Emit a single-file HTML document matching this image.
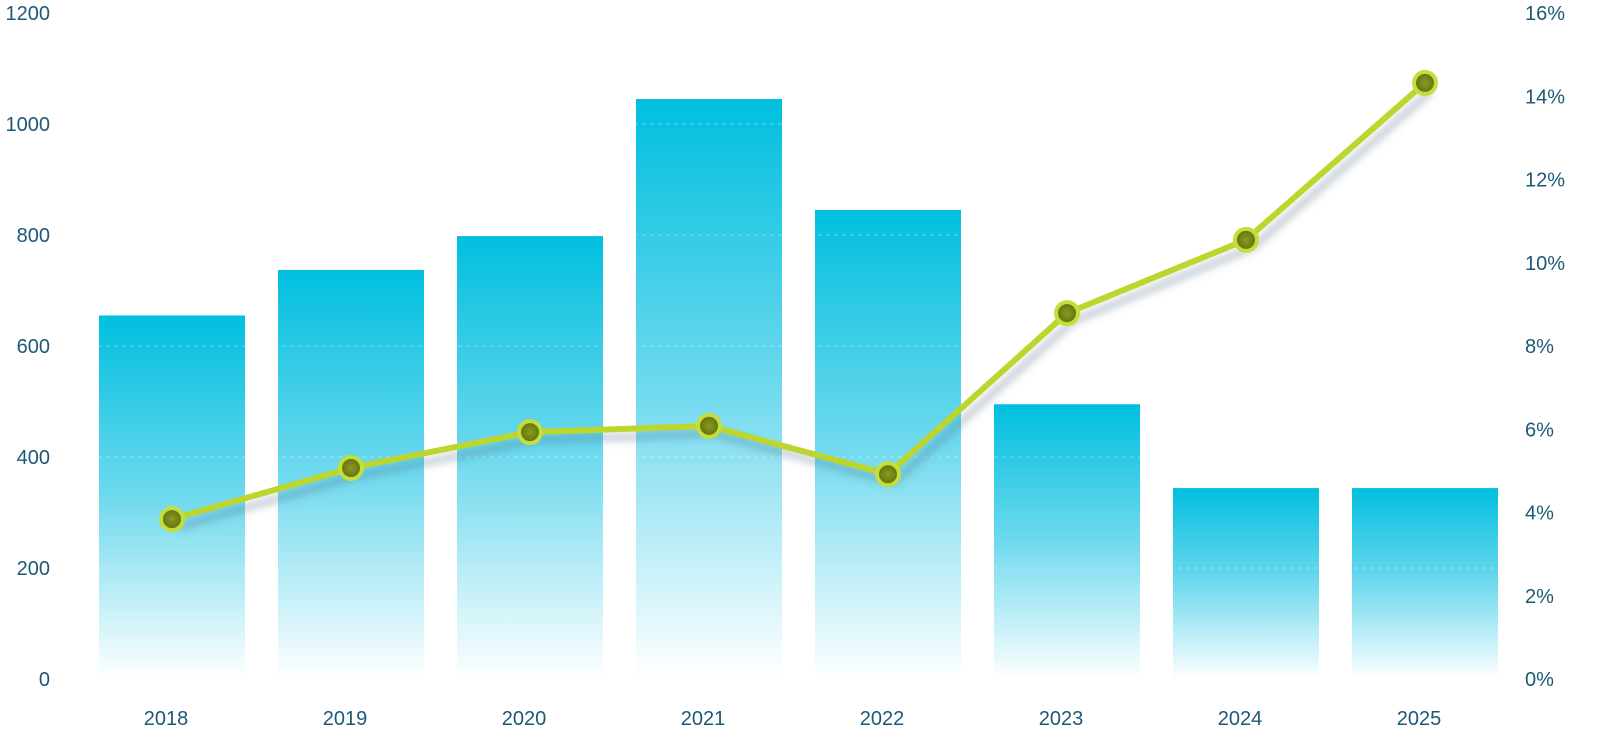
<!DOCTYPE html>
<html><head><meta charset="utf-8"><style>
html,body{margin:0;padding:0;background:#fff;}
svg{display:block;font-family:"Liberation Sans",sans-serif;}
</style></head><body>
<svg width="1620" height="756" viewBox="0 0 1620 756">
<defs>
<linearGradient id="bg" x1="0" y1="0" x2="0" y2="1">
<stop offset="0" stop-color="#00bfdf"/><stop offset="0.5" stop-color="#6fd9ee"/><stop offset="1" stop-color="#ffffff"/>
</linearGradient>
<radialGradient id="mk" cx="0.5" cy="0.5" r="0.5">
<stop offset="0" stop-color="#8a9a20"/><stop offset="1" stop-color="#5f6e10"/>
</radialGradient>
<filter id="sh" x="-20%" y="-20%" width="140%" height="140%"><feGaussianBlur stdDeviation="4"/></filter>
</defs>
<g id="bars"></g>
<g id="grid"></g>
<g id="line"></g>
<g id="axes"></g>
</svg>
<script>
const categories=["2018","2019","2020","2021","2022","2023","2024","2025"];
const barValues=[655,737,798,1045,845,495,344,344];
const lineValues=[3.84,5.07,5.93,6.08,4.92,8.79,10.55,14.32];
const leftTicks=[0,200,400,600,800,1000,1200];
const rightTicks=[0,2,4,6,8,10,12,14,16];
const NS="http://www.w3.org/2000/svg";
const y0=679,y1=13;
const yL=v=>y0-(v/1200)*(y0-y1);
const yR=v=>y0-(v/16)*(y0-y1);
const bw=146,step=179,x0=99;
const xc=i=>x0+i*step+bw/2;
function mk(t,a,p){const e=document.createElementNS(NS,t);for(const k in a)e.setAttribute(k,a[k]);p.appendChild(e);return e;}
const bars=document.getElementById('bars'),grid=document.getElementById('grid'),line=document.getElementById('line'),axes=document.getElementById('axes');
barValues.forEach((v,i)=>{
 const r=mk('rect',{x:xc(i)-bw/2,y:yL(v),width:bw,height:y0-yL(v),fill:'url(#bg)'},bars);
 
 
 const t=mk('text',{x:xc(i)-6,y:725,'font-size':20,fill:'#1d5878','text-anchor':'middle'},axes);
 t.textContent=categories[i];
 
 
});
leftTicks.forEach(v=>{
 if(v>0&&v<1200){const g=mk('line',{x1:90,x2:1500,y1:yL(v),y2:yL(v),stroke:'#ffffff','stroke-opacity':0.35,'stroke-dasharray':'4 4'},grid);
 
 }
 const t=mk('text',{x:50,y:yL(v)+7,'font-size':20,fill:'#1d5878','text-anchor':'end'},axes);
 t.textContent=v;
 
 
});
rightTicks.forEach(v=>{
 const t=mk('text',{x:1525,y:yR(v)+7,'font-size':20,fill:'#1d5878','text-anchor':'start'},axes);
 t.textContent=v+'%';
 
 
});
const pts=lineValues.map((v,i)=>xc(i)+','+yR(v)).join(' ');
const sh=mk('polyline',{points:lineValues.map((v,i)=>(xc(i)+6)+','+(yR(v)+8)).join(' '),fill:'none',stroke:'#4a6a80','stroke-opacity':0.35,'stroke-width':7,filter:'url(#sh)'},line);


const pl=mk('polyline',{points:pts,fill:'none',stroke:'#bcd62e','stroke-width':6,'stroke-linejoin':'round'},line);


lineValues.forEach((v,i)=>{
 const c=mk('circle',{cx:xc(i),cy:yR(v),r:11,fill:'url(#mk)',stroke:'#c4de3a','stroke-width':4},line);
 
 
});
</script>
</body></html>
